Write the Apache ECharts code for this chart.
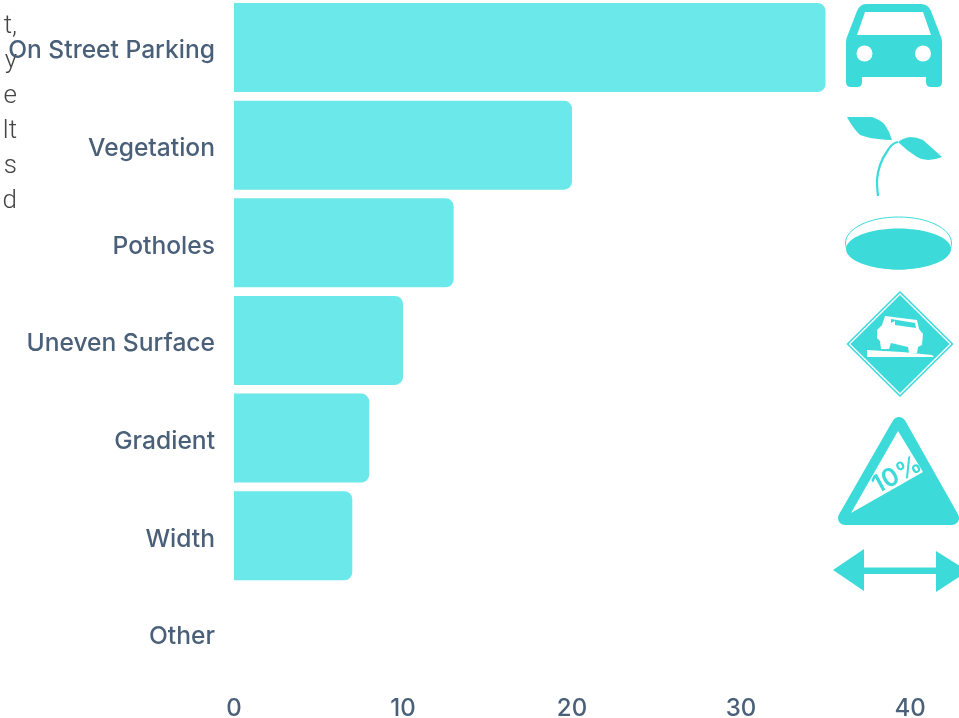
<!DOCTYPE html>
<html><head><meta charset="utf-8">
<style>html,body{margin:0;padding:0;background:#fff;overflow:hidden}#c{width:959px;height:718px}</style>
<script src="https://cdn.jsdelivr.net/npm/echarts@6/dist/echarts.min.js"></script>
</head><body><div id="c"></div>
<script>
const categories = ['On Street Parking','Vegetation','Potholes','Uneven Surface','Gradient','Width','Other'];
const values = [35,20,13,10,8,7,0];
const tickValues = [0,10,20,30,40];
const cutOffText = ['t,','y','e','lt','s','d'];

const ICON = '#3ddada', BAR = '#6be8ea', LABEL = '#4a5f78';
const solid = (d, fill, extra) => ({type:'path', silent:true, shape:{pathData:d}, style:Object.assign({fill:fill||ICON}, extra||{})});

const icons = [
  // car
  solid('M866 4 H921 Q928 4 931 11 L941 37 Q942 39 942 42 V82 Q942 87 937 87 H931 Q926 87 926 82 V77 H862 V82 Q862 87 857 87 H851 Q846 87 846 82 V42 Q846 39 847 37 L857 11 Q860 4 866 4 Z'),
  solid('M865 12 H923 L931 35 H857 Z','#fff'),
  {type:'circle',silent:true,shape:{cx:864.5,cy:53.5,r:8},style:{fill:'#fff'}},
  {type:'circle',silent:true,shape:{cx:923,cy:53.5,r:8},style:{fill:'#fff'}},
  // sprout
  solid('M847 117 L872 117 Q881 120 885 125 Q890 132 892 140 Q885 140 878 139 Q868 138 860 135 Q852 127 847 117 Z'),
  solid('M898 142 Q903 138 910 137 Q917 137 923 140 Q932 148 942 157 Q935 160 928 160 Q922 160 917 157 Q906 150 898 142 Z'),
  {type:'path',silent:true,shape:{pathData:'M898 142 Q892 143 888 150 Q878 164 877 180 Q877 188 878 196'},style:{fill:'none',stroke:ICON,lineWidth:2.2}},
  // pothole
  {type:'ellipse',silent:true,shape:{cx:898.5,cy:243,rx:53,ry:26},style:{fill:'#fff',stroke:ICON,lineWidth:1}},
  {type:'ellipse',silent:true,shape:{cx:898.5,cy:249,rx:52.5,ry:20.5},style:{fill:ICON}},
  // uneven-surface sign
  solid('M900 292 L952.5 344 L900 396 L847.5 344 Z','#fff',{stroke:ICON,lineWidth:1.6,lineJoin:'round'}),
  solid('M900 295 L949.5 344 L900 393 L850.5 344 Z'),
  solid('M885 316 L917 320 L919 329 L923 334 L922 345 L918 347 L917 353 L909 353 L908 347 L891 343 L889 349 L881 349 L880 341 L877 338 L877 330 L882 325 Z','#fff'),
  solid('M891 319 L915 323 L916 328 L895 325 L895 321 L891 323 Z',ICON),
  solid('M867 350 L902 352 L932 355 L934 357 L867 357 Z','#fff'),
  // gradient sign
  solid('M899 424 L952 518 L845 518 Z',ICON,{stroke:ICON,lineWidth:14,lineJoin:'round'}),
  solid('M898 431 L923 472 L851 513 Z','#fff'),
  {type:'text',silent:true,x:897,y:475,rotation:0.5,
    style:{text:'10%',align:'center',verticalAlign:'middle',fill:ICON,font:'600 25px Inter'}},
  // width arrow
  solid('M833 570 L864 549 V567.5 H936 V551 L968 571 L936 592 V574 H864 V591 Z')
];

const cutY = [26.5,61.5,96,131,166,201];
const cut = cutOffText.map((t,i)=>({type:'text',silent:true,z:-1,
  style:{text:t,x:17,y:cutY[i],align:'right',verticalAlign:'middle',fill:'#444',font:'300 26px Roboto'}}));

echarts.init(document.getElementById('c'),null,{renderer:'canvas'}).setOption({
  animation:false,
  grid:{left:234,right:49,top:-1.3,height:683.5,containLabel:false,outerBoundsMode:'none'},
  xAxis:{type:'value',min:0,max:40,interval:10,
    axisLine:{show:false},axisTick:{show:false},splitLine:{show:false},
    axisLabel:{margin:15,color:LABEL,fontFamily:'Inter',fontWeight:500,fontSize:24,customValues:tickValues}},
  yAxis:{type:'category',inverse:true,data:categories,
    axisLine:{show:false},axisTick:{show:false},splitLine:{show:false},
    axisLabel:{margin:19,color:LABEL,fontFamily:'Inter',fontWeight:500,fontSize:24.6,verticalAlign:'top',lineHeight:7}},
  series:[
    {type:'bar',data:values,barWidth:89,itemStyle:{color:BAR,borderRadius:[0,8,8,0]}},
    {type:'custom',coordinateSystem:'none',silent:true,data:[0],
     renderItem:()=>({type:'group',children:icons})}
  ],
  graphic:{elements:cut}
});
</script></body></html>
